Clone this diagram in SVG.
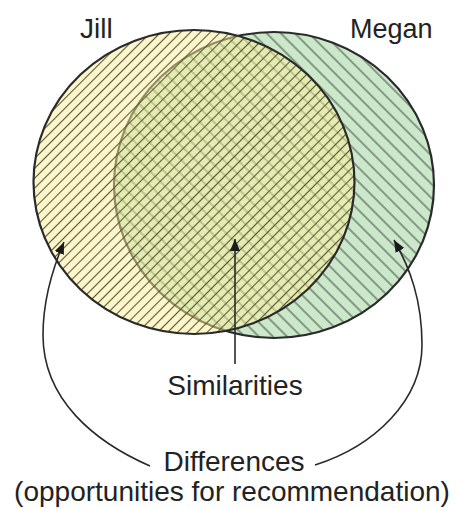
<svg xmlns="http://www.w3.org/2000/svg" width="457" height="509" viewBox="0 0 457 509">
  <style>
    .lbl { font-family: "Liberation Sans", Arial, sans-serif; font-size: 28px; fill: #222; }
    .outline { fill: none; stroke: #2a2a2a; stroke-width: 2.2; }
    .conn { fill: none; stroke: #2a2a2a; stroke-width: 1.6; }
  </style>
  <defs>
    <pattern id="hatchJ" patternUnits="userSpaceOnUse" width="7" height="7" patternTransform="rotate(45)">
      <line x1="3.5" y1="0" x2="3.5" y2="7" stroke="#55553f" stroke-width="1.1"/>
    </pattern>
    <pattern id="hatchM" patternUnits="userSpaceOnUse" width="10" height="10" patternTransform="rotate(-45)">
      <line x1="5" y1="0" x2="5" y2="10" stroke="#4a554a" stroke-width="1.1"/>
    </pattern>
    <marker id="arrow" markerUnits="userSpaceOnUse" markerWidth="14" markerHeight="12" refX="12" refY="5" orient="auto">
      <path d="M0,0 L12,5 L0,10 Z" fill="#1a1a1a"/>
    </marker>
  </defs>

  <g id="megan">
    <ellipse cx="274" cy="185" rx="160" ry="153" fill="#cbe8cb"/>
    <ellipse cx="274" cy="185" rx="160" ry="153" fill="url(#hatchM)"/>
    <ellipse class="outline" cx="274" cy="185" rx="160" ry="153"/>
    <text class="lbl" x="350" y="38" style="font-size:27px">Megan</text>
  </g>

  <g id="jill">
    <ellipse cx="194" cy="182" rx="160.5" ry="152" fill="#fdef95" fill-opacity="0.5"/>
    <ellipse cx="194" cy="182" rx="160.5" ry="152" fill="url(#hatchJ)"/>
    <ellipse class="outline" cx="194" cy="182" rx="160.5" ry="152"/>
    <text class="lbl" x="80" y="38">Jill</text>
  </g>

  <g id="connectors">
    <path class="conn" d="M235,364 L235,239" marker-end="url(#arrow)"/>
    <path class="conn" d="M150,466 C95,442 43,400 43,335 C43,300 52,270 64,242" marker-end="url(#arrow)"/>
    <path class="conn" d="M315,465 C375,446 422,400 422,345 C422,300 410,268 394,240" marker-end="url(#arrow)"/>
  </g>

  <g id="similarities">
    <text class="lbl" x="235" y="395" text-anchor="middle">Similarities</text>
  </g>
  <g id="differences">
    <text class="lbl" x="234" y="471" text-anchor="middle">Differences</text>
    <text class="lbl" x="232" y="501" text-anchor="middle">(opportunities for recommendation)</text>
  </g>
</svg>
